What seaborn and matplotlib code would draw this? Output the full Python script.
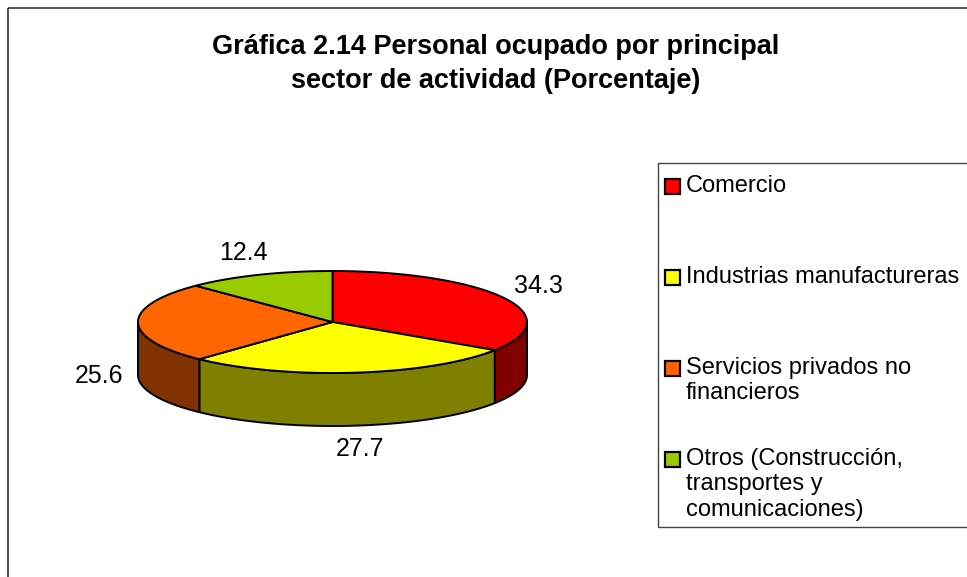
import numpy as np
import matplotlib
matplotlib.use("Agg")
import matplotlib.pyplot as plt
from matplotlib.patches import Polygon, Rectangle
import seaborn as sns

# data
sectors = ["Comercio", "Industrias manufactureras", "Servicios privados no\nfinancieros",
           "Otros (Construcción,\ntransportes y\ncomunicaciones)"]
shares = [34.3, 27.7, 25.6, 12.4]
top_colors = ["#FF0000", "#FFFF00", "#FF6600", "#99CC00"]
side_colors = ["#800000", "#808000", "#803300", "#4D6600"]
title = "Gráfica 2.14 Personal ocupado por principal\nsector de actividad (Porcentaje)"

sns.set_theme(style="white")
plt.rcParams["font.family"] = ["Liberation Sans", "DejaVu Sans"]
plt.rcParams["text.color"] = "black"

W, H = 967, 577
fig = plt.figure(figsize=(W / 100, H / 100), dpi=100)
ax = fig.add_axes([0, 0, 1, 1])
ax.set_xlim(0, W)
ax.set_ylim(H, 0)
ax.axis("off")

# chart area border (runs off right and bottom)
ax.add_patch(Rectangle((8, 8), 1100, 700, fill=False, ec="#222222", lw=1.1))

ax.text(496, 64, title, ha="center", va="center", fontsize=19.5, fontweight="bold",
        linespacing=1.35)

# 3d pie geometry
cx, cy, rx, ry, depth = 332.5, 322, 194.5, 51, 53
lw = 1.4


def arc(a1, a2, n=80):
    t = np.radians(np.linspace(a1, a2, n))
    return cx + rx * np.cos(t), cy - ry * np.sin(t)


vals = np.array(shares)
ends = 90 - np.cumsum(vals) / vals.sum() * 360
starts = np.concatenate([[90], ends[:-1]])

# side walls, only front half (angles between -180 and 0)
for a1, a2, col in zip(starts, ends, side_colors):
    s1 = ((a1 + 180) % 360) - 180
    s2 = s1 - (a1 - a2)
    lo, hi = max(s2, -180), min(s1, 0)
    if hi <= lo:
        continue
    x, y = arc(hi, lo)
    pts = np.column_stack([np.concatenate([x, x[::-1]]),
                           np.concatenate([y, y[::-1] + depth])])
    ax.add_patch(Polygon(pts, closed=True, fc=col, ec="black", lw=lw, joinstyle="round"))

# top faces
for a1, a2, col in zip(starts, ends, top_colors):
    x, y = arc(a1, a2)
    pts = np.column_stack([np.concatenate([[cx], x]), np.concatenate([[cy], y])])
    ax.add_patch(Polygon(pts, closed=True, fc=col, ec="black", lw=lw, joinstyle="round"))

# value labels
lab_rx, lab_ry = 1.2 * rx, 75
for a1, a2, v in zip(starts, ends, shares):
    m = np.radians((a1 + a2) / 2)
    lx = cx + lab_rx * np.cos(m)
    ly = cy - lab_ry * np.sin(m) + (depth if np.sin(m) < 0 else 0)
    ax.text(lx, ly, f"{v:.1f}", ha="center", va="center", fontsize=18)

# legend, equal slots, top aligned
bx, by, bw, bh = 658, 163, 400, 364
ax.add_patch(Rectangle((bx, by), bw, bh, fill=False, ec="#444444", lw=1.0))
slot = bh / len(sectors)
for i, (lab, col) in enumerate(zip(sectors, top_colors)):
    ty = by + i * slot + 12
    ax.add_patch(Rectangle((665, ty + 4), 15, 15, fc=col, ec="black", lw=1.6))
    ax.text(686, ty, lab, ha="left", va="top", fontsize=17, linespacing=1.2)

fig.savefig("out.png", dpi=100)
